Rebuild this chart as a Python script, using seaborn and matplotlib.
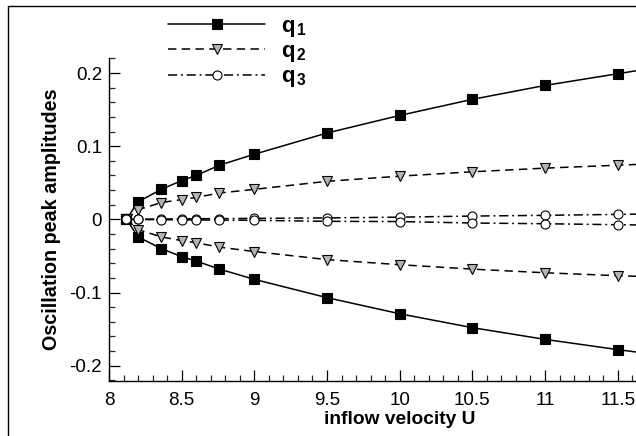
import numpy as np
import pandas as pd
import matplotlib
matplotlib.use("Agg")
import matplotlib.pyplot as plt
import seaborn as sns
from matplotlib.lines import Line2D
from matplotlib.ticker import MultipleLocator

# ---------------- data ----------------
U = [8.12, 8.2, 8.36, 8.5, 8.6, 8.76, 9.0, 9.5, 10.0, 10.5, 11.0, 11.5, 12.0]
q1_up = [0.0, 0.024, 0.041, 0.053, 0.060, 0.074, 0.089, 0.118, 0.142, 0.164, 0.183, 0.199, 0.215]
q1_lo = [0.0, -0.024, -0.040, -0.051, -0.057, -0.068, -0.082, -0.107, -0.129, -0.148, -0.164, -0.178, -0.191]
q2_up = [0.0, 0.013, 0.023, 0.027, 0.030, 0.036, 0.041, 0.052, 0.059, 0.065, 0.070, 0.074, 0.078]
q2_lo = [0.0, -0.014, -0.024, -0.029, -0.032, -0.038, -0.044, -0.055, -0.062, -0.068, -0.073, -0.077, -0.080]
q3_up = [0.0, 0.0002, 0.0005, 0.0007, 0.0008, 0.001, 0.0013, 0.002, 0.003, 0.0045, 0.0055, 0.0068, 0.008]
q3_lo = [0.0, -0.0002, -0.0005, -0.0007, -0.0008, -0.001, -0.0013, -0.0027, -0.003, -0.005, -0.006, -0.0073, -0.0085]
labels = [r"$\mathbf{q}_{\,\mathbf{1}}$", r"$\mathbf{q}_{\,\mathbf{2}}$", r"$\mathbf{q}_{\,\mathbf{3}}$"]
xticks = [8, 8.5, 9, 9.5, 10, 10.5, 11, 11.5, 12]
yticks = [-0.2, -0.1, 0, 0.1, 0.2]

# ---------------- style ----------------
sns.set_theme(style="white")
plt.rcParams["font.family"] = ["Liberation Sans", "DejaVu Sans"]
plt.rcParams["mathtext.fontset"] = "custom"
plt.rcParams["mathtext.bf"] = "Liberation Sans:bold"
plt.rcParams["mathtext.rm"] = "Liberation Sans"
plt.rcParams["mathtext.it"] = "Liberation Sans:italic"
plt.rcParams["text.color"] = "black"
plt.rcParams["axes.labelcolor"] = "black"

fig = plt.figure(figsize=(6.36, 4.36), dpi=100)
# axes extends past the right edge of the figure (the reference is cropped there)
px_per_unit = 145.34
ax_right_px = 109 + 4.0 * px_per_unit
ax = fig.add_axes([109 / 636, 55 / 436, (ax_right_px - 109) / 636, (381 - 58) / 436])

styles = [
    dict(marker="s", linestyle="-", markerfacecolor="black", markeredgecolor="black", markersize=6.5),
    dict(marker="v", linestyle=(0, (5.5, 3.5)), markerfacecolor="#b4b4b4", markeredgecolor="black", markersize=7.5),
    dict(marker="o", linestyle=(0, (6, 2.5, 1.2, 2.5)), markerfacecolor="white", markeredgecolor="black", markersize=6.5),
]
series = [(q1_up, q1_lo), (q2_up, q2_lo), (q3_up, q3_lo)]

handles = []
for (up, lo), st, lab in zip(series, styles, labels):
    for vals in (up, lo):
        df = pd.DataFrame({"U": U, "q": vals})
        sns.lineplot(data=df, x="U", y="q", ax=ax, color="black", linewidth=1.1,
                     markeredgewidth=0.8, sort=False, estimator=None, **st)
    handles.append(Line2D([], [], color="black", linewidth=1.1, markeredgewidth=0.8, **st))

ax.set_xlim(8, 12)
ax.set_ylim(-0.2209, 0.2205)
ax.set_xticks(xticks)
ax.set_xticklabels([f"{t:g}" for t in xticks])
ax.set_yticks(yticks)
ax.set_yticklabels([f"{t:g}" for t in yticks])
ax.xaxis.set_minor_locator(MultipleLocator(0.1))
ax.yaxis.set_minor_locator(MultipleLocator(0.02))
ax.tick_params(which="major", direction="in", length=8, width=0.9, labelsize=13.5,
               colors="black", pad=5, bottom=True, left=True)
ax.tick_params(axis="x", which="major", pad=8)
ax.tick_params(which="minor", direction="in", length=4.5, width=0.9, bottom=True, left=True)

for s in ["top", "right"]:
    ax.spines[s].set_visible(False)
for s in ["left", "bottom"]:
    ax.spines[s].set_color("black")
    ax.spines[s].set_linewidth(1.0)

ax.set_xlabel("inflow velocity U", fontsize=13.8, fontweight="bold", labelpad=1, color="black")
ax.set_ylabel("Oscillation peak amplitudes", fontsize=14.2, fontweight="bold", labelpad=6, color="black")

leg = fig.legend(handles, labels, loc="upper left", bbox_to_anchor=(168 / 636, 1 - 16 / 436),
                 frameon=False, fontsize=16, handlelength=4.37, handletextpad=0.7,
                 labelspacing=0.1, borderaxespad=0, borderpad=0)

# outer frame (top and left edges visible)
fig.add_artist(Line2D([8 / 636, 8 / 636], [0, 1 - 6 / 436], transform=fig.transFigure, color="black", linewidth=1.0))
fig.add_artist(Line2D([8 / 636, 1], [1 - 6 / 436, 1 - 6 / 436], transform=fig.transFigure, color="black", linewidth=1.0))

fig.savefig("out.png", dpi=100)
